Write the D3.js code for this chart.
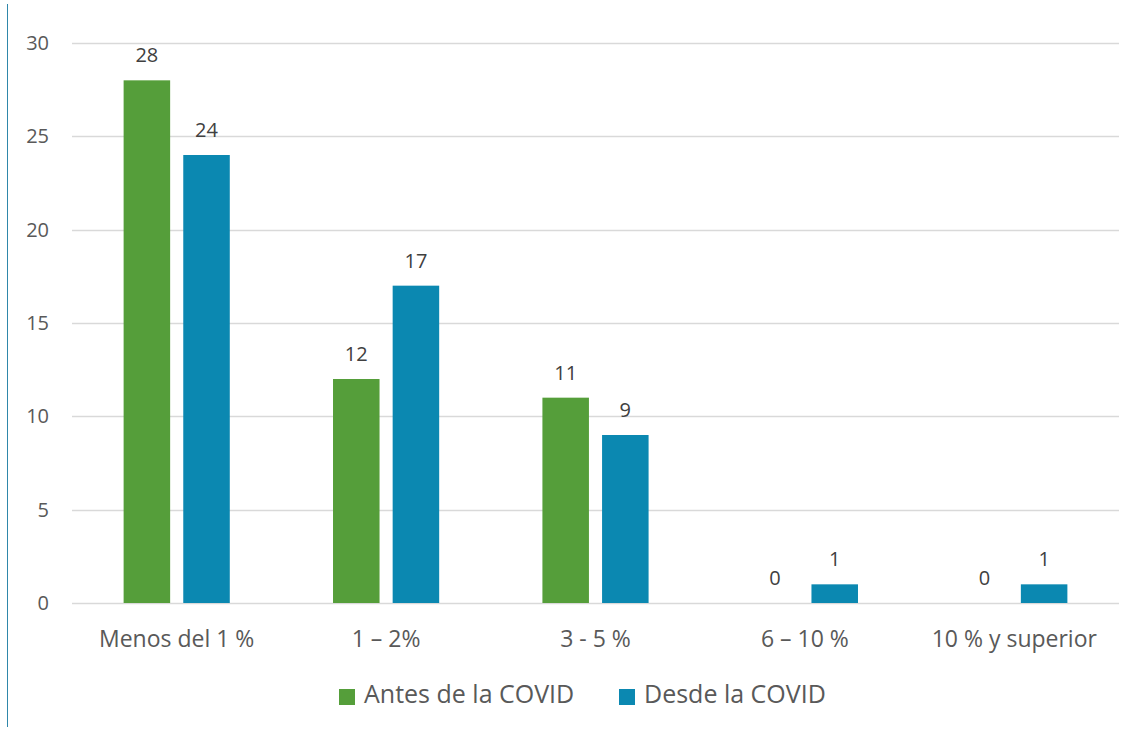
<!DOCTYPE html>
<html>
<head>
<meta charset="utf-8">
<script src="https://cdn.jsdelivr.net/npm/d3@7"></script>
<style>
	body { margin: 0; background: #fff; }
	svg { display: block; font-family: 'Open Sans', sans-serif; }
</style>
</head>
<body>
<div id="chart"></div>
<script>
// chart data
const categories = ['Menos del 1 %', '1 – 2%', '3 - 5 %', '6 – 10 %', '10 % y superior'];
const seriesNames = ['Antes de la COVID', 'Desde la COVID'];
const antes = [28, 12, 11, 0, 0];
const desde = [24, 17, 9, 1, 1];
const yTicks = [0, 5, 10, 15, 20, 25, 30];

const colors = ['#559e3a', '#0b88b1'];

const width = 1137, height = 729;
const margin = { top: 43, right: 18, bottom: 126, left: 72 };
const innerW = width - margin.left - margin.right;
const innerH = height - margin.top - margin.bottom;

const svg = d3.select('#chart').append('svg').attr('width', width).attr('height', height);

// left border line
svg.append('line')
	.attr('x1', 7.5).attr('x2', 7.5)
	.attr('y1', 4).attr('y2', 727)
	.attr('stroke', '#2f87aa').attr('stroke-width', 1);

const g = svg.append('g').attr('transform', `translate(${margin.left},${margin.top})`);

const x0 = d3.scaleBand().domain(categories).range([0, innerW]).paddingInner(0.493).paddingOuter(0.2465);
const x1 = d3.scaleBand().domain(seriesNames).range([0, x0.bandwidth()]).paddingInner(0.22);
const y = d3.scaleLinear().domain([0, 30]).range([innerH, 0]);

// gridlines
g.selectAll('.grid')
	.data(yTicks)
	.enter()
	.append('line')
	.attr('class', 'grid')
	.attr('x1', 0).attr('x2', innerW)
	.attr('y1', (d) => Math.round(y(d)) + 0.5)
	.attr('y2', (d) => Math.round(y(d)) + 0.5)
	.attr('stroke', '#d9d9d9')
	.attr('stroke-width', 1.5);

// y tick labels
g.selectAll('.ytick')
	.data(yTicks)
	.enter()
	.append('text')
	.attr('class', 'ytick')
	.attr('x', -23)
	.attr('y', (d) => y(d))
	.attr('dy', '0.35em')
	.attr('text-anchor', 'end')
	.attr('font-size', 20)
	.attr('fill', '#595959')
	.text((d) => d);

// bars
const rows = categories.map((c, i) => ({ cat: c, vals: [antes[i], desde[i]] }));
const groups = g.selectAll('.cat')
	.data(rows)
	.enter()
	.append('g')
	.attr('class', 'cat')
	.attr('transform', (d) => `translate(${x0(d.cat)},0)`);

groups.selectAll('rect')
	.data((d) => d.vals.map((v, k) => ({ key: seriesNames[k], v: v, k: k })))
	.enter()
	.append('rect')
	.attr('x', (d) => x1(d.key))
	.attr('width', x1.bandwidth())
	.attr('y', (d) => y(d.v))
	.attr('height', (d) => innerH - y(d.v))
	.attr('fill', (d) => colors[d.k]);

groups.selectAll('.lbl')
	.data((d) => d.vals.map((v, k) => ({ key: seriesNames[k], v: v, k: k })))
	.enter()
	.append('text')
	.attr('class', 'lbl')
	.attr('x', (d) => x1(d.key) + x1.bandwidth() / 2)
	.attr('y', (d) => y(d.v) - 18)
	.attr('text-anchor', 'middle')
	.attr('font-size', 20)
	.attr('fill', '#404040')
	.text((d) => d.v);

// category labels
g.selectAll('.xlab')
	.data(categories)
	.enter()
	.append('text')
	.attr('class', 'xlab')
	.attr('x', (d) => x0(d) + x0.bandwidth() / 2)
	.attr('y', innerH + 44)
	.attr('text-anchor', 'middle')
	.attr('font-size', 23)
	.attr('fill', '#595959')
	.text((d) => d);

// legend
const legendX = [339, 619];
const legend = svg.selectAll('.legend')
	.data(seriesNames)
	.enter()
	.append('g')
	.attr('class', 'legend')
	.attr('transform', (d, i) => `translate(${legendX[i]},689)`);

legend.append('rect')
	.attr('width', 16).attr('height', 16)
	.attr('fill', (d, i) => colors[i]);

legend.append('text')
	.attr('x', 25)
	.attr('y', 14)
	.attr('font-size', 25)
	.attr('fill', '#595959')
	.text((d) => d);
</script>
</body>
</html>
